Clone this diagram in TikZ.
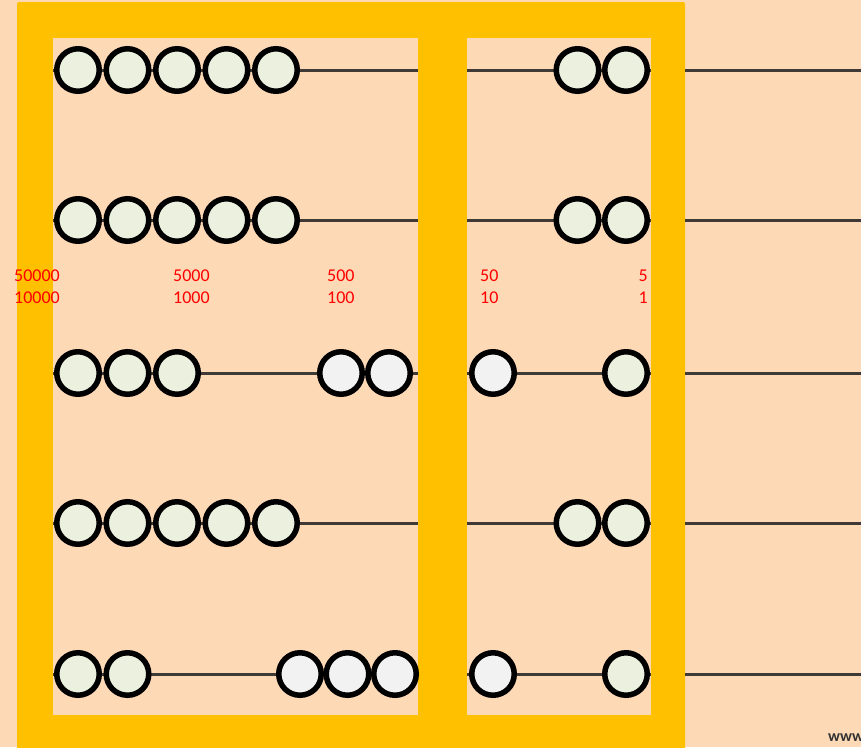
\documentclass[tikz,border=0pt]{standalone}
\usepackage{fontspec}
\setmainfont{Carlito}
\usetikzlibrary{positioning}
\definecolor{peach}{HTML}{FDD9B5}
\definecolor{gold}{HTML}{FFC000}
\definecolor{beadgreen}{HTML}{EBF1DE}
\definecolor{beadwhite}{HTML}{F2F2F2}
\definecolor{rodgrey}{HTML}{3F3A36}
\tikzset{bead/.style={circle,draw=black,line width=5.5pt,minimum size=42.5pt,inner sep=0pt}}

\begin{document}
\begin{tikzpicture}[x=1pt,y=-1pt]

\tikzstyle{up}=[bead,fill=beadgreen]
\tikzstyle{down}=[bead,fill=beadwhite]
\tikzstyle{rod}=[line width=3pt,rodgrey]
\tikzstyle{val}=[inner sep=0pt,text=red,font=\fontsize{18}{22}\selectfont]

 \useasboundingbox (0,0) rectangle (861,747);
 \clip (0,0) rectangle (861,747);
 \fill[peach] (0,0) rectangle (861,747);

 \fill[gold,rounded corners=2pt] (17,2) rectangle (685,770);
 \fill[peach] (53,38) rectangle (418,715);
 \fill[peach] (467,38) rectangle (651,715);

 \foreach \r/\y in {1/70,2/220,3/373,4/523,5/674} {
   \coordinate (la-\r) at (53,\y);
   \coordinate (lb-\r) at (418,\y);
   \coordinate (ra-\r) at (467,\y);
   \coordinate (rb-\r) at (651,\y);
   \coordinate (oa-\r) at (685,\y);
   \coordinate (ob-\r) at (861,\y);
   \draw[rod] (la-\r) -- (lb-\r);
   \draw[rod] (ra-\r) -- (rb-\r);
   \draw[rod] (oa-\r) -- (ob-\r);
 }

 \foreach \r/\y/\n in {1/70/5,2/220/5,3/373/3,4/523/5,5/674/2}
   \foreach \i in {1,...,\n}
     \node[up] (g-\r-\i) at ({78+49.5*(\i-1)},\y) {};

 \foreach \r/\y in {1/70,2/220,4/523} {
   \node[up] (p-\r-1) at (577.5,\y) {};
   \node[up] (p-\r-2) at (626,\y) {};
 }

 \node[down] (w-3-1) at (341,373) {};
 \node[down] (w-3-2) at (389,373) {};
 \node[down] (w-5-1) at (300,674) {};
 \node[down] (w-5-2) at (347.5,674) {};
 \node[down] (w-5-3) at (395,674) {};
 \foreach \r/\y in {3/373,5/674} {
   \node[down] (q-\r-1) at (493,\y) {};
   \node[up] (p-\r-2) at (626,\y) {};
 }

 \foreach \x/\a/\b in {14/50000/10000,173/5000/1000,327/500/100,480/50/10} {
   \node[val,anchor=base west] (hi-\a) at (\x,281) {\a};
   \node[val,anchor=base west] (lo-\b) at (\x,303.5) {\b};
 }
 \node[val,anchor=base east] (hi-5) at (648,281) {5};
 \node[val,anchor=base east] (lo-1) at (648,303.5) {1};

 \node[anchor=base west,inner sep=0pt,text=black!80,font=\bfseries\fontsize{16}{19}\selectfont] (web) at (828,741) {www};
\end{tikzpicture}
\end{document}
